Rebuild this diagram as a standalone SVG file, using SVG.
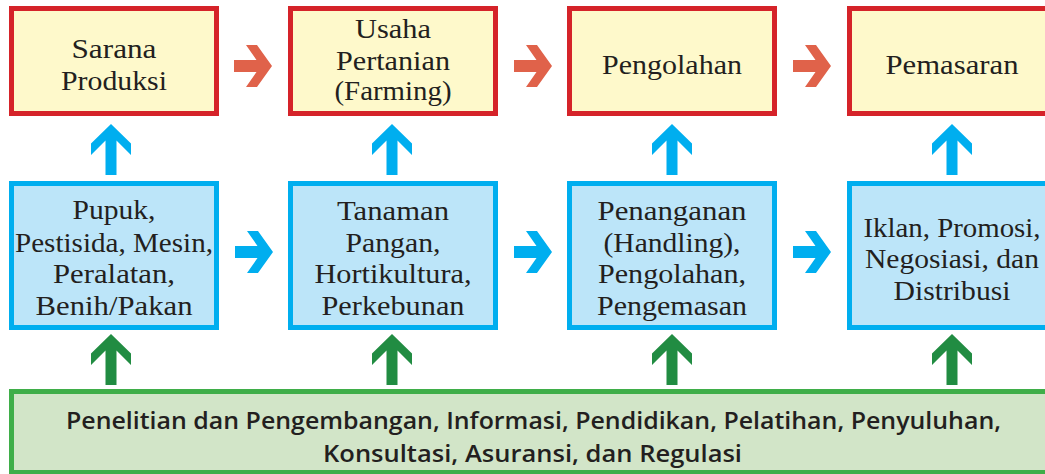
<svg xmlns="http://www.w3.org/2000/svg" width="1045" height="474" viewBox="0 0 1045 474">
<defs>
<style>
.red{fill:#fef9cb;stroke:#d52329;stroke-width:5}
.blue{fill:#bce5f9;stroke:#00aeef;stroke-width:5}
.green{fill:#d2e5c8;stroke:#3fae49;stroke-width:5}
.t{font-family:"Liberation Serif","Times New Roman",serif;font-size:27px;fill:#231f20;text-anchor:middle}
.g{font-family:"Open Sans","Noto Sans","Liberation Sans",sans-serif;font-size:24px;font-weight:600;fill:#231f20;text-anchor:middle}
.ra{fill:#e0624a}
.ba{fill:#00aeef}
.ga{fill:#218c42}
</style>
<polygon id="rarrow" points="-38,-6 -15.5,-6 -26,-21 -15,-21 0,0 -15,21 -26,21 -15.5,6 -38,6"/>
<polygon id="uarrow" points="0,0 20,19.5 20,31 5.5,16.5 5.5,51 -5.5,51 -5.5,16.5 -20,31 -20,19.5"/>
</defs>
<rect width="1045" height="474" fill="#ffffff"/>

<g id="connectors">
<use href="#rarrow" class="ra" x="272" y="66"/>
<use href="#rarrow" class="ra" x="552" y="66"/>
<use href="#rarrow" class="ra" x="831" y="66"/>
<use href="#rarrow" class="ba" x="273" y="252"/>
<use href="#rarrow" class="ba" x="552" y="252"/>
<use href="#rarrow" class="ba" x="831" y="252"/>
<use href="#uarrow" class="ba" x="111" y="124"/>
<use href="#uarrow" class="ba" x="392" y="124"/>
<use href="#uarrow" class="ba" x="672" y="124"/>
<use href="#uarrow" class="ba" x="952" y="124"/>
<use href="#uarrow" class="ga" x="111" y="334"/>
<use href="#uarrow" class="ga" x="392" y="334"/>
<use href="#uarrow" class="ga" x="672" y="334"/>
<use href="#uarrow" class="ga" x="952" y="334"/>
</g>

<g id="sarana">
<rect class="red" x="11.5" y="8.5" width="205" height="105"/>
<text class="t" x="114" y="58" textLength="85" lengthAdjust="spacingAndGlyphs">Sarana</text>
<text class="t" x="114" y="90" textLength="106" lengthAdjust="spacingAndGlyphs">Produksi</text>
</g>
<g id="usaha">
<rect class="red" x="290.5" y="8.5" width="205" height="105"/>
<text class="t" x="393" y="38" textLength="76" lengthAdjust="spacingAndGlyphs">Usaha</text>
<text class="t" x="393" y="70" textLength="114" lengthAdjust="spacingAndGlyphs">Pertanian</text>
<text class="t" x="393" y="100" textLength="117" lengthAdjust="spacingAndGlyphs">(Farming)</text>
</g>
<g id="pengolahan">
<rect class="red" x="569.5" y="8.5" width="205" height="105"/>
<text class="t" x="672" y="74" textLength="140" lengthAdjust="spacingAndGlyphs">Pengolahan</text>
</g>
<g id="pemasaran">
<rect class="red" x="849.5" y="8.5" width="205" height="105"/>
<text class="t" x="952" y="74" textLength="133" lengthAdjust="spacingAndGlyphs">Pemasaran</text>
</g>

<g id="pupuk">
<rect class="blue" x="11.5" y="183.5" width="205" height="144"/>
<text class="t" x="114" y="219" textLength="83" lengthAdjust="spacingAndGlyphs">Pupuk,</text>
<text class="t" x="114" y="252" textLength="198" lengthAdjust="spacingAndGlyphs">Pestisida, Mesin,</text>
<text class="t" x="114" y="283" textLength="122" lengthAdjust="spacingAndGlyphs">Peralatan,</text>
<text class="t" x="114" y="315" textLength="157" lengthAdjust="spacingAndGlyphs">Benih/Pakan</text>
</g>
<g id="tanaman">
<rect class="blue" x="290.5" y="183.5" width="205" height="144"/>
<text class="t" x="393" y="220" textLength="112" lengthAdjust="spacingAndGlyphs">Tanaman</text>
<text class="t" x="393" y="252" textLength="95" lengthAdjust="spacingAndGlyphs">Pangan,</text>
<text class="t" x="393" y="283" textLength="157" lengthAdjust="spacingAndGlyphs">Hortikultura,</text>
<text class="t" x="393" y="315" textLength="143" lengthAdjust="spacingAndGlyphs">Perkebunan</text>
</g>
<g id="penanganan">
<rect class="blue" x="569.5" y="183.5" width="205" height="144"/>
<text class="t" x="672" y="220" textLength="149" lengthAdjust="spacingAndGlyphs">Penanganan</text>
<text class="t" x="672" y="252" textLength="137" lengthAdjust="spacingAndGlyphs">(Handling),</text>
<text class="t" x="672" y="283" textLength="148" lengthAdjust="spacingAndGlyphs">Pengolahan,</text>
<text class="t" x="672" y="315" textLength="150" lengthAdjust="spacingAndGlyphs">Pengemasan</text>
</g>
<g id="iklan">
<rect class="blue" x="849.5" y="183.5" width="205" height="144"/>
<text class="t" x="952" y="237" textLength="177" lengthAdjust="spacingAndGlyphs">Iklan, Promosi,</text>
<text class="t" x="952" y="268" textLength="174" lengthAdjust="spacingAndGlyphs">Negosiasi, dan</text>
<text class="t" x="952" y="300" textLength="117" lengthAdjust="spacingAndGlyphs">Distribusi</text>
</g>

<g id="penelitian">
<rect class="green" x="11.5" y="391.5" width="1050" height="81"/>
<text class="g" x="533.5" y="429" textLength="935" lengthAdjust="spacingAndGlyphs">Penelitian dan Pengembangan, Informasi, Pendidikan, Pelatihan, Penyuluhan,</text>
<text class="g" x="532.5" y="462" textLength="419" lengthAdjust="spacingAndGlyphs">Konsultasi, Asuransi, dan Regulasi</text>
</g>
</svg>
